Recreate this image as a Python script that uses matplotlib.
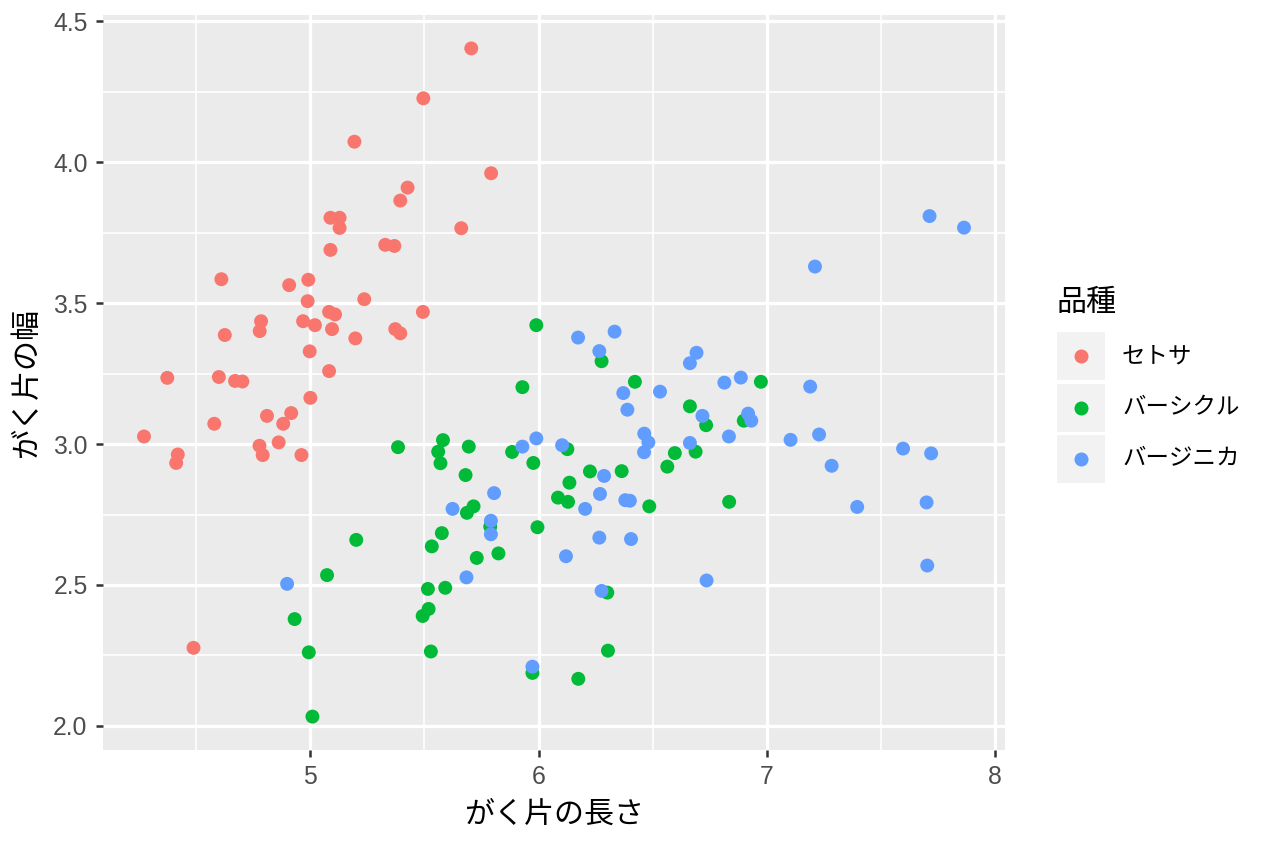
import numpy as np
import matplotlib
matplotlib.use("Agg")
import matplotlib.pyplot as plt
from matplotlib.patches import Rectangle
from matplotlib.lines import Line2D

plt.rcParams['font.family'] = ['Noto Sans CJK JP', 'DejaVu Sans']

# jittered iris sepal data
setosa_x = [5.705, 5.495, 5.193, 5.792, 5.426, 5.394, 5.088, 5.128, 5.128, 5.661,
            5.328, 5.368, 5.088, 4.610, 4.907, 4.991, 4.988, 5.236, 5.493, 5.082,
            5.108, 4.784, 4.778, 4.968, 5.020, 5.095, 5.372, 5.394, 5.197, 4.625,
            4.997, 5.082, 4.373, 4.599, 4.670, 4.702, 5.000, 4.810, 4.916, 4.881,
            4.579, 4.271, 4.777, 4.861, 4.791, 4.961, 4.419, 4.412, 4.488]
setosa_y = [4.404, 4.227, 4.073, 3.961, 3.910, 3.864, 3.803, 3.803, 3.767, 3.766,
            3.707, 3.703, 3.689, 3.585, 3.564, 3.583, 3.507, 3.514, 3.469, 3.469,
            3.460, 3.436, 3.401, 3.436, 3.422, 3.408, 3.408, 3.393, 3.375, 3.387,
            3.329, 3.259, 3.235, 3.238, 3.224, 3.222, 3.164, 3.100, 3.110, 3.072,
            3.072, 3.027, 2.994, 3.006, 2.961, 2.961, 2.963, 2.933, 2.277]

versicolor_x = [5.384, 5.581, 5.560, 5.570, 5.201, 5.576, 5.532, 5.073, 5.515, 5.591,
                5.518, 5.492, 4.931, 4.993, 5.528, 5.009,
                5.990, 6.276, 6.422, 5.929, 6.663, 5.694, 5.884, 5.977, 6.126, 5.680,
                6.225, 6.364, 6.597, 6.688, 6.564, 6.135, 6.085, 6.129, 6.485, 5.715,
                5.686, 5.788, 5.995, 5.729, 5.824, 6.301, 6.304, 5.973, 6.174,
                6.974, 6.734, 6.899, 6.835]
versicolor_y = [2.989, 3.014, 2.973, 2.932, 2.660, 2.684, 2.637, 2.535, 2.486, 2.490,
                2.415, 2.390, 2.379, 2.261, 2.264, 2.033,
                3.422, 3.294, 3.221, 3.202, 3.134, 2.991, 2.972, 2.933, 2.982, 2.890,
                2.903, 2.904, 2.968, 2.973, 2.920, 2.863, 2.810, 2.795, 2.779, 2.779,
                2.756, 2.707, 2.705, 2.596, 2.612, 2.473, 2.267, 2.188, 2.167,
                3.221, 3.067, 3.083, 2.795]

virginica_x = [4.898,
               6.173, 6.333, 6.266, 6.692, 6.663, 6.371, 6.532, 6.389, 6.463, 6.481,
               6.462, 6.663, 5.990, 5.929, 6.103, 6.287, 5.805, 6.269, 6.380, 6.400,
               6.204, 5.623, 5.791, 5.791, 6.266, 6.405, 6.120, 5.684, 6.276, 5.973,
               7.713, 7.864, 7.211, 6.814, 6.886, 7.190, 6.718, 6.918, 6.932, 6.834,
               7.104, 7.229, 7.284, 7.597, 7.720, 7.396, 7.700, 7.703, 6.736]
virginica_y = [2.504,
               3.378, 3.399, 3.330, 3.324, 3.287, 3.181, 3.186, 3.122, 3.037, 3.006,
               2.971, 3.004, 3.020, 2.991, 2.996, 2.887, 2.826, 2.823, 2.801, 2.799,
               2.770, 2.770, 2.728, 2.680, 2.668, 2.663, 2.602, 2.527, 2.479, 2.210,
               3.809, 3.768, 3.630, 3.218, 3.236, 3.204, 3.100, 3.108, 3.083, 3.027,
               3.015, 3.034, 2.923, 2.984, 2.967, 2.777, 2.793, 2.569, 2.516]

species = ['セトサ', 'バーシクル', 'バージニカ']
colors = ['#F8766D', '#00BA38', '#619CFF']
xticks = [5, 6, 7, 8]
yticks = [2.0, 2.5, 3.0, 3.5, 4.0, 4.5]

W, H = 1264, 848
fig = plt.figure(figsize=(W / 180, H / 180), dpi=180)
fig.patch.set_facecolor('white')

# panel placed in pixels
px0, px1, py0, py1 = 103, 1005, 15, 750
ax = fig.add_axes([px0 / W, 1 - py1 / H, (px1 - px0) / W, (py1 - py0) / H])
ax.set_facecolor('#EBEBEB')

series = [(setosa_x, setosa_y), (versicolor_x, versicolor_y), (virginica_x, virginica_y)]
for (xs, ys), c in zip(series, colors):
    ax.scatter(xs, ys, s=31, color=c, edgecolors='none', zorder=3)

# ggplot-style 5% expansion
allx = np.concatenate([s[0] for s in series])
ally = np.concatenate([s[1] for s in series])
ex = (allx.max() - allx.min()) * 0.05
ey = (ally.max() - ally.min()) * 0.05
ax.set_xlim(allx.min() - ex, allx.max() + ex)
ax.set_ylim(ally.min() - ey, ally.max() + ey)

ax.set_xticks(xticks)
ax.set_xticklabels([str(t) for t in xticks])
ax.set_yticks(yticks)
ax.set_yticklabels(['%.1f' % t for t in yticks])
ax.set_xticks([4.5, 5.5, 6.5, 7.5], minor=True)
ax.set_yticks([2.25, 2.75, 3.25, 3.75, 4.25], minor=True)

ax.grid(which='major', color='white', linewidth=1.3)
ax.grid(which='minor', color='white', linewidth=0.65)
ax.set_axisbelow(True)
for sp in ax.spines.values():
    sp.set_visible(False)
ax.tick_params(which='major', length=2.75, width=1.0, color='#333333',
               labelsize=9.9, labelcolor='#4D4D4D', pad=3.4)
ax.tick_params(which='minor', length=0)
for lab in ax.get_xticklabels() + ax.get_yticklabels():
    lab.set_family(['Liberation Sans', 'DejaVu Sans'])

ax.set_xlabel('がく片の長さ', fontsize=12)
ax.set_ylabel('がく片の幅', fontsize=12)
ax.xaxis.label.set_va('center')
ax.yaxis.label.set_va('center')
ax.xaxis.set_label_coords(0.5, -(814 - py1) / (py1 - py0))
ax.yaxis.set_label_coords((27 - px0) / (px1 - px0), 0.5)

# legend drawn by hand, ggplot-like
fig.text(1057 / W, 1 - 302 / H, '品種', fontsize=12, ha='left', va='center')
key_tops = [332, 384, 435]
for top, c, name in zip(key_tops, colors, species):
    fig.add_artist(Rectangle((1057 / W, 1 - (top + 48) / H), 48 / W, 48 / H,
                             transform=fig.transFigure, facecolor='#F2F2F2',
                             edgecolor='none'))
    cy = 1 - (top + 24) / H
    fig.add_artist(Line2D([1081 / W], [cy], transform=fig.transFigure, marker='o',
                          markersize=5.6, markerfacecolor=c, markeredgecolor='none',
                          linestyle='none'))
    fig.text(1122 / W, cy, name, fontsize=9.4, ha='left', va='center')

fig.savefig('out.png', dpi=180)
